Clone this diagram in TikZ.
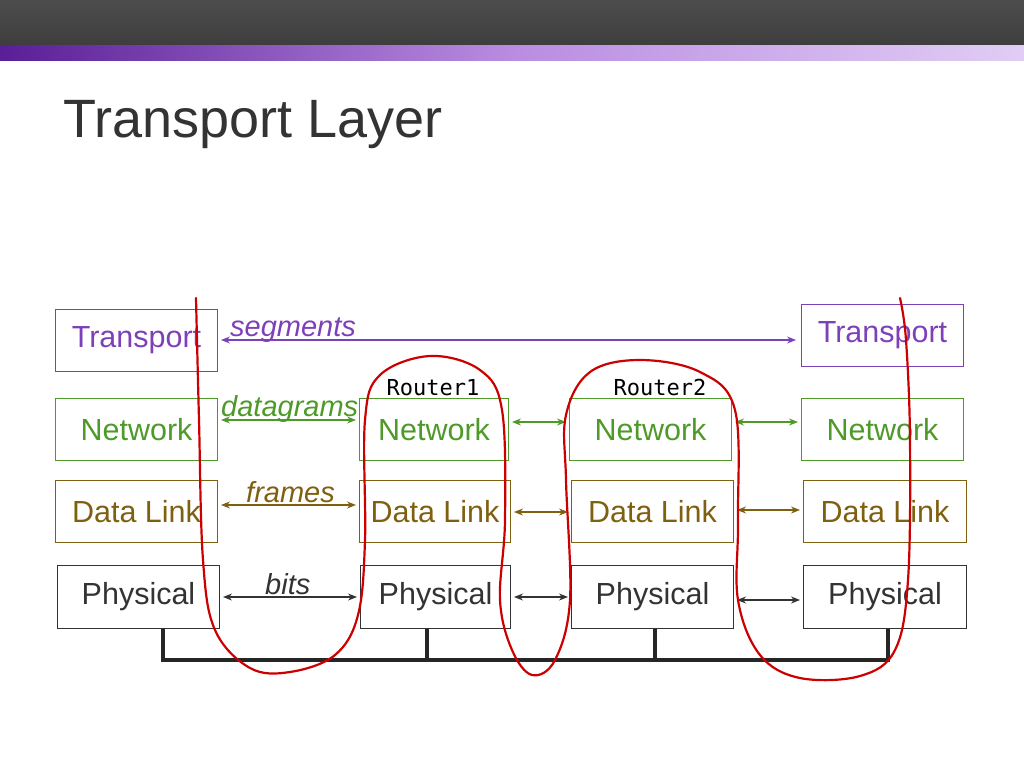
\documentclass[tikz,border=0pt]{standalone}
\usepackage{fontspec}
\usetikzlibrary{arrows.meta}
\setmainfont{Liberation Sans}
\setmonofont{DejaVu Sans Mono}
\newcommand\mybx[7]{\node[box=#6,minimum width=#3-#2,minimum height=#5-#4,inner sep=0,anchor=north west] (#1) at (#2,#4) {#7};}
\begin{document}
\begin{tikzpicture}[x=1pt,y=-1pt,
  box/.style={draw=#1,text=#1,line width=1pt,font=\fontsize{30.5}{32}\selectfont},
  lab/.style={text=#1,font=\fontsize{29}{30}\selectfont\itshape,inner sep=1pt},
  arr/.style={draw=#1,line width=1.2pt,{Stealth[length=9pt,width=7pt]}-{Stealth[length=9pt,width=7pt]}},
  bus/.style={line width=4.5pt,draw=black!85}]
\useasboundingbox (0,0) rectangle (1024,768);
\definecolor{pu}{HTML}{7E40B8}
\definecolor{gr}{HTML}{4E9A29}
\definecolor{br}{HTML}{7F6010}
\definecolor{bl}{HTML}{333333}
\fill[top color=black!70,bottom color=black!76] (0,0) rectangle (1024,46);
\shade[left color={rgb,255:red,90;green,30;blue,150},right color={rgb,255:red,225;green,205;blue,245},middle color={rgb,255:red,185;green,140;blue,225}] (0,46) rectangle (1024,60);
\node[anchor=base west,text=bl,font=\fontsize{54}{58}\selectfont,inner sep=0] (title) at (63,137) {Transport Layer};
\mybx{t1}{55}{217}{309}{371}{pu}{Transport}
\mybx{n1}{55}{217}{398}{460}{gr}{Network}
\mybx{d1}{55}{217}{480}{542}{br}{Data Link}
\mybx{p1}{57}{219}{565}{628}{bl}{Physical}
\mybx{n2}{359}{508}{398}{460}{gr}{Network}
\mybx{d2}{359}{510}{480}{542}{br}{Data Link}
\mybx{p2}{360}{510}{565}{628}{bl}{Physical}
\mybx{n3}{569}{731}{398}{460}{gr}{Network}
\mybx{d3}{571}{733}{480}{542}{br}{Data Link}
\mybx{p3}{571}{733}{565}{628}{bl}{Physical}
\mybx{t4}{801}{963}{304}{366}{pu}{Transport}
\mybx{n4}{801}{963}{398}{460}{gr}{Network}
\mybx{d4}{803}{966}{480}{542}{br}{Data Link}
\mybx{p4}{803}{966}{565}{628}{bl}{Physical}
\draw[arr=pu] (t1.east|-0,340) ++(3,0) -- ([xshift=-5pt]t4.west|-0,340);
\draw[arr=gr] (n1.east|-0,420) ++(3,0) -- ([xshift=-3pt]n2.west|-0,420);
\draw[arr=br] (d1.east|-0,505) ++(3,0) -- ([xshift=-3pt]d2.west|-0,505);
\draw[arr=bl] (p1.east|-0,597) ++(3,0) -- ([xshift=-3pt]p2.west|-0,597);
\draw[arr=gr] (n2.east|-0,422) ++(3,0) -- ([xshift=-3pt]n3.west|-0,422);
\draw[arr=br] (d2.east|-0,512) ++(3,0) -- ([xshift=-3pt]d3.west|-0,512);
\draw[arr=bl] (p2.east|-0,597) ++(3,0) -- ([xshift=-3pt]p3.west|-0,597);
\draw[arr=gr] (n3.east|-0,422) ++(3,0) -- ([xshift=-3pt]n4.west|-0,422);
\draw[arr=br] (d3.east|-0,510) ++(3,0) -- ([xshift=-3pt]d4.west|-0,510);
\draw[arr=bl] (p3.east|-0,600) ++(3,0) -- ([xshift=-3pt]p4.west|-0,600);
\node[lab=pu,anchor=base west] (ls) at (229,336) {segments};
\node[lab=gr,anchor=base west] (ld) at (220,416) {datagrams};
\node[lab=br,anchor=base west] (lf) at (245,502) {frames};
\node[lab=bl,anchor=base west] (lb) at (264,594) {bits};
\node[font=\ttfamily\fontsize{22}{24}\selectfont,anchor=base] (r1) at (433,395) {Router1};
\node[font=\ttfamily\fontsize{22}{24}\selectfont,anchor=base] (r2) at (660,395) {Router2};
\draw[bus] (p1.south-|163,0) -- (163,660) -- (888,660) -- (p4.south-|888,0);
\draw[bus] (p2.south-|427,0) -- (427,660);
\draw[bus] (p3.south-|655,0) -- (655,660);
\draw[red!80!black,line width=2.2pt,line cap=round] plot[smooth,tension=0.6] coordinates {
 (196,298) (199,420) (203,560) (215,630) (250,668) (290,672) (335,655) (358,615) (365,540) (365,420)
 (380,375) (430,356) (480,370) (502,410) (505,520) (500,600) (512,650) (532,675) (555,660) (570,600)
 (566,480) (566,415) (590,372) (640,360) (700,372) (735,410) (738,520) (738,600) (760,655) (800,678) (860,676) (895,650) (908,580)
 (910,440) (906,340) (900,298)};
\end{tikzpicture}
\end{document}
